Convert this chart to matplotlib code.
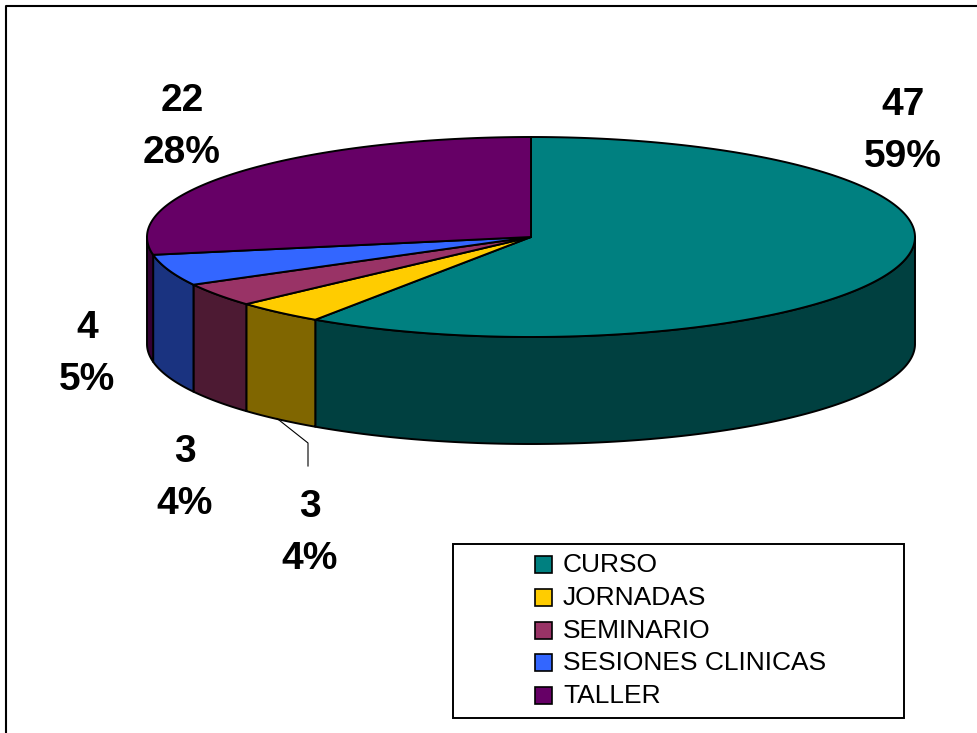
import numpy as np
import matplotlib.pyplot as plt
from matplotlib.patches import Polygon, Rectangle

plt.rcParams['font.family'] = ['Liberation Sans', 'DejaVu Sans']

# data ########################################################################
categories = ['CURSO', 'JORNADAS', 'SEMINARIO', 'SESIONES CLINICAS', 'TALLER']
values = [47, 3, 3, 4, 22]
top_colors = ['#008080', '#FFCC00', '#993366', '#3366FF', '#660066']
side_colors = ['#004040', '#806600', '#4D1A33', '#1A3380', '#330033']
###############################################################################

# pie layout (pixels)
cx, cy = 531, 237
rx, ry = 384, 100
depth = 107
# baseline of the value line of each label (percent line sits 52px lower)
label_pos = [(903, 115), (310, 517), (185, 462), (87, 338), (182, 111)]

fig = plt.figure(figsize=(9.78, 7.33), dpi=100)
ax = fig.add_axes([0, 0, 1, 1])
ax.set_xlim(0, 978)
ax.set_ylim(733, 0)
ax.set_axis_off()


def pt(theta, drop=0):
    t = np.radians(theta)
    return cx + rx * np.cos(t), cy - ry * np.sin(t) + drop


def arc(t1, t2, drop=0, n=200):
    th = np.linspace(t1, t2, n)
    x, y = pt(th, drop)
    return np.column_stack([x, y])


total = float(sum(values))
start = 90.0
angles = []
for v in values:
    end = start - v / total * 360.0
    angles.append((start, end))
    start = end

# sides (only the front half of the cylinder is visible)
for (t1, t2), col in zip(angles, side_colors):
    lo = max(t2, -180.0)
    hi = min(t1, 0.0)
    if lo >= hi:
        continue
    top = arc(hi, lo)
    bot = arc(lo, hi, drop=depth)
    poly = Polygon(np.vstack([top, bot]), closed=True, facecolor=col,
                   edgecolor='black', linewidth=1.4, joinstyle='round', zorder=1)
    ax.add_patch(poly)

# top faces
for (t1, t2), col in zip(angles, top_colors):
    pts = np.vstack([[cx, cy], arc(t1, t2)])
    poly = Polygon(pts, closed=True, facecolor=col, edgecolor='black',
                   linewidth=1.4, joinstyle='round', zorder=2)
    ax.add_patch(poly)

# labels
for v, (lx, ly) in zip(values, label_pos):
    pct = '%d%%' % round(v / total * 100)
    ax.text(lx, ly, str(v), fontsize=28, fontweight='bold', ha='center',
            va='baseline', zorder=5)
    ax.text(lx, ly + 52, pct, fontsize=28, fontweight='bold', ha='center',
            va='baseline', zorder=5)

# leader line for JORNADAS
t1, t2 = angles[1]
sx, sy = pt((t1 + t2) / 2, drop=depth)
lx, ly = label_pos[1]
ax.plot([sx - 2, lx - 2, lx - 2], [sy - 1, ly - 74, ly - 51], color='black',
        linewidth=0.8, zorder=4)

# legend box
ax.add_patch(Rectangle((453, 544), 451, 174, facecolor='white',
                       edgecolor='black', linewidth=1.4, zorder=3))
for i, (name, col) in enumerate(zip(categories, top_colors)):
    yy = 564 + i * 32.8
    ax.add_patch(Rectangle((535, yy - 8), 17, 17, facecolor=col,
                           edgecolor='black', linewidth=1.2, zorder=4))
    ax.text(563, yy + 1, name, fontsize=19, ha='left', va='center', zorder=4)

# outer frame
ax.plot([6, 6, 990], [740, 6, 6], color='black', linewidth=1.5, zorder=6)

plt.savefig('out.png', dpi=100)
